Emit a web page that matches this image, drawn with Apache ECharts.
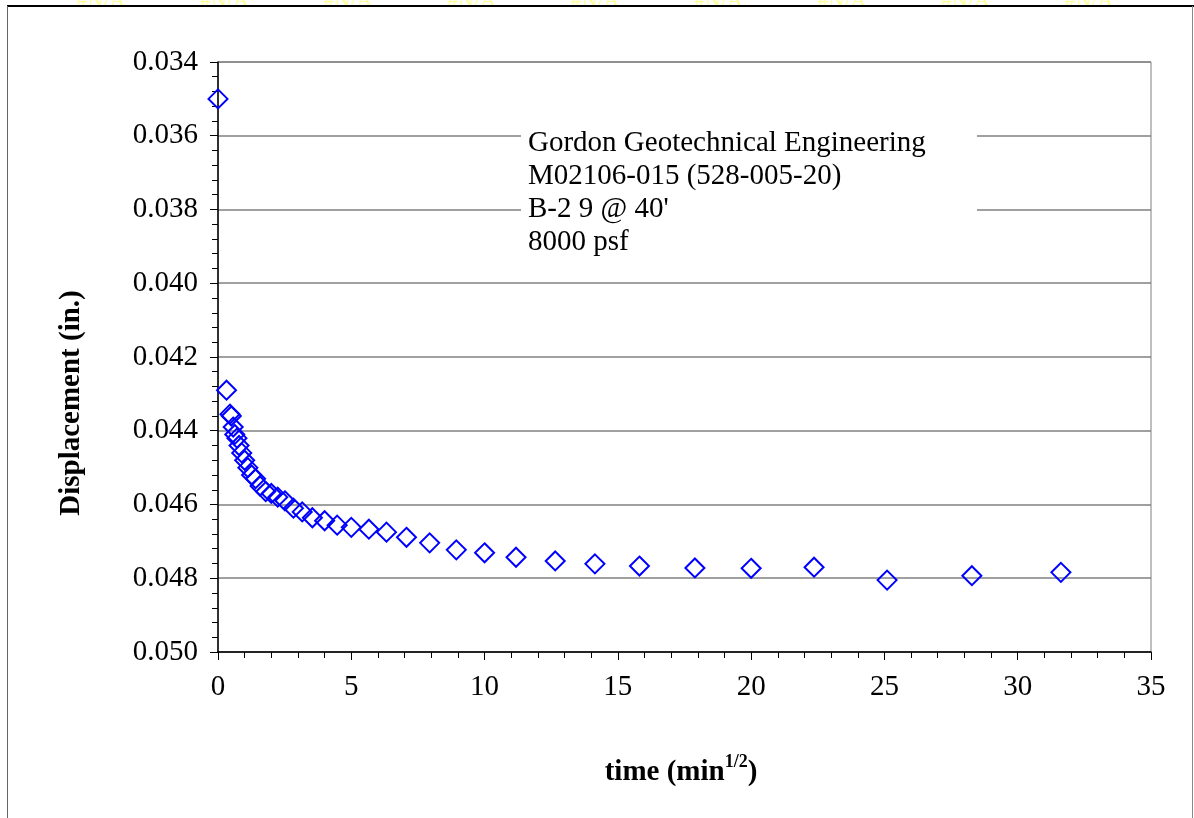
<!DOCTYPE html>
<html>
<head>
<meta charset="utf-8">
<script src="https://cdn.jsdelivr.net/npm/echarts@6/dist/echarts.min.js"></script>
<style>
html,body{margin:0;padding:0;background:#fff;}
#chart{width:1194px;height:818px;}
</style>
</head>
<body>
<div id="chart"></div>
<script>
// time (min^1/2)
const timeSqrt = [0, 0.32, 0.45, 0.5, 0.57, 0.63, 0.71, 0.79, 0.89, 1.0, 1.12, 1.26, 1.41, 1.58, 1.79, 2.0, 2.24, 2.51, 2.83, 3.16, 3.54, 4.0, 4.47, 5.0, 5.66, 6.32, 7.07, 7.94, 8.94, 10.0, 11.18, 12.65, 14.14, 15.81, 17.89, 20.0, 22.36, 25.1, 28.28, 31.62];
// displacement (in.)
const displacement = [0.0350, 0.0429, 0.04355, 0.0436, 0.0439, 0.0441, 0.0442, 0.0444, 0.0446, 0.0448, 0.0450, 0.0452, 0.0453, 0.0455, 0.04565, 0.0457, 0.0458, 0.0459, 0.0461, 0.0462, 0.04636, 0.04644, 0.04656, 0.04662, 0.04667, 0.04675, 0.04689, 0.04704, 0.04723, 0.04731, 0.04743, 0.04753, 0.04761, 0.04767, 0.04772, 0.04773, 0.04770, 0.04805, 0.04793, 0.04784];
const annotationLines = ['Gordon Geotechnical Engineering', 'M02106-015 (528-005-20)', "B-2 9 @ 40'", '8000 psf'];
const naLabels = ['#N/A', '#N/A', '#N/A', '#N/A', '#N/A', '#N/A', '#N/A', '#N/A', '#N/A'];
const yTitle = 'Displacement (in.)';

const FONT = "'Liberation Serif', 'Times New Roman', serif";
const chart = echarts.init(document.getElementById('chart'), null, {renderer: 'canvas'});

const naGraphics = naLabels.map((t, i) => ({
  type: 'text', x: 101 + i * 123.5, y: 12, z: 1,
  style: {text: t, font: "22px " + FONT, fill: '#ffff99', align: 'center', verticalAlign: 'bottom'}
}));

const option = {
  animation: false,
  backgroundColor: '#ffffff',
  grid: {left: 218, top: 62, right: 43, bottom: 166, show: true, borderColor: '#808080', borderWidth: 1, containLabel: false},
  xAxis: {
    type: 'value', min: 0, max: 35, interval: 5,
    axisLine: {show: true, onZero: false, lineStyle: {color: '#000', width: 1.5}},
    axisTick: {show: true, length: 8, lineStyle: {color: '#000', width: 1}},
    minorTick: {show: true, splitNumber: 5, length: 6, lineStyle: {color: '#000', width: 1}},
    splitLine: {show: false},
    axisLabel: {color: '#000', fontFamily: FONT, fontSize: 29, margin: 21}
  },
  yAxis: {
    type: 'value', min: 0.034, max: 0.050, interval: 0.002, inverse: true,
    axisLine: {show: true, onZero: false, lineStyle: {color: '#000', width: 1.5}},
    axisTick: {show: true, length: 8, lineStyle: {color: '#000', width: 1}},
    minorTick: {show: true, splitNumber: 5, length: 6, lineStyle: {color: '#000', width: 1}},
    splitLine: {show: true, lineStyle: {color: '#808080', width: 1.5}},
    axisLabel: {color: '#000', fontFamily: FONT, fontSize: 29, margin: 20, formatter: v => v.toFixed(3)}
  },
  series: [{
    type: 'scatter',
    data: timeSqrt.map((x, i) => [x, displacement[i]]),
    symbol: 'diamond', symbolSize: 19, clip: false,
    itemStyle: {color: 'rgba(0,0,0,0)', borderColor: '#0000ff', borderWidth: 2, opacity: 1},
    emphasis: {disabled: true}
  }],
  graphic: [
    ...naGraphics,
    {type: 'line', z: 10, shape: {x1: 7, y1: 6, x2: 1194, y2: 6}, style: {stroke: '#000', lineWidth: 2}},
    {type: 'line', z: 10, shape: {x1: 7.5, y1: 6, x2: 7.5, y2: 818}, style: {stroke: '#666', lineWidth: 1}},
    {type: 'line', z: 10, shape: {x1: 1192.5, y1: 6, x2: 1192.5, y2: 818}, style: {stroke: '#888', lineWidth: 1}},
    {type: 'rect', z: 20, shape: {x: 521, y: 120, width: 456, height: 140}, style: {fill: '#fff', stroke: null}},
    {type: 'text', z: 21, x: 528, y: 127,
      style: {text: annotationLines.join('\n'), font: "29px " + FONT, fill: '#000', lineHeight: 33, align: 'left', verticalAlign: 'top'}},
    {type: 'text', z: 21, x: 72, y: 403, rotation: Math.PI / 2,
      style: {text: yTitle, font: "bold 29px " + FONT, fill: '#000', align: 'center', verticalAlign: 'middle'}},
    {type: 'text', z: 21, x: 681, y: 770,
      style: {
        text: '{a|time (min}{s|1/2}{a|)}', align: 'center', verticalAlign: 'middle',
        rich: {
          a: {font: "bold 29px " + FONT, fill: '#000', color: '#000', lineHeight: 34, verticalAlign: 'bottom'},
          s: {font: "bold 18px " + FONT, fill: '#000', color: '#000', lineHeight: 34, verticalAlign: 'top'}
        }
      }}
  ]
};
chart.setOption(option);
</script>
</body>
</html>
